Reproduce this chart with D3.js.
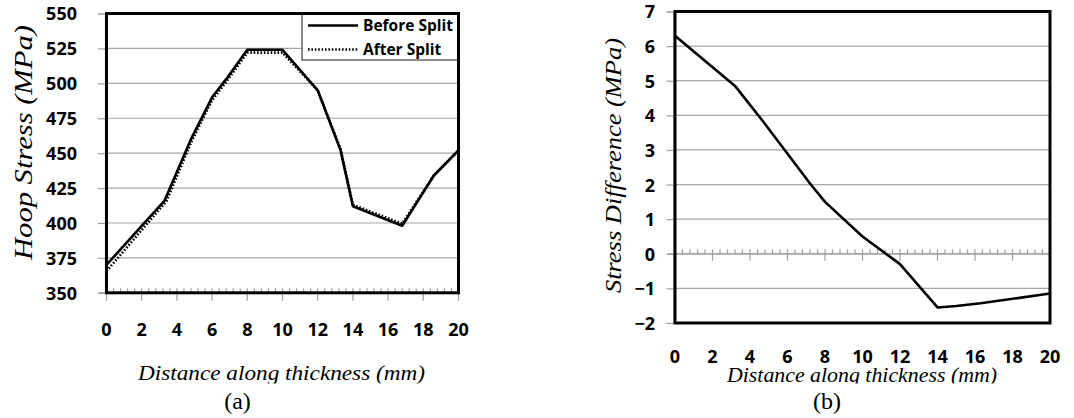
<!DOCTYPE html>
<html>
<head>
<meta charset="utf-8">
<script src="https://cdn.jsdelivr.net/npm/d3@7"></script>
<style>
  html, body { margin: 0; padding: 0; background: #fff; }
  svg { display: block; }
  .tick-label { font-family: "Open Sans", Lato, sans-serif; font-weight: 700; font-size: 18px; fill: #000; }
  .title { font-family: "Liberation Serif", "DejaVu Serif", serif; font-style: italic; fill: #000; }
  .caption { font-family: "Liberation Serif", "DejaVu Serif", serif; font-size: 24px; fill: #000; }
  .legend { font-family: "Open Sans", Lato, sans-serif; font-weight: 700; font-size: 15.5px; fill: #000; }
</style>
</head>
<body>
<svg id="chart" width="1074" height="418"></svg>
<script>
// Panel (a): hoop stress through the thickness, before and after splitting
const hoopTicksX = [0, 2, 4, 6, 8, 10, 12, 14, 16, 18, 20];
const hoopTicksY = [350, 375, 400, 425, 450, 475, 500, 525, 550];
const beforeX = [0, 3.3, 4.8, 6, 6.8, 8, 10, 12, 13.3, 14, 16.8, 18.6, 20];
const beforeY = [370, 416, 460, 490, 503, 524, 524, 495, 452, 412, 398, 434, 452];
const afterX  = [0, 3.4, 4.8, 6, 6.8, 8, 10, 12, 13.3, 14, 16.8, 18.6, 20];
const afterY  = [365.5, 415.5, 457.5, 488, 501, 522, 522, 495, 453, 413, 399.5, 434, 452];
const seriesNames = ["Before Split", "After Split"];

// Panel (b): difference between the two stress states
const diffTicksX = [0, 2, 4, 6, 8, 10, 12, 14, 16, 18, 20];
const diffTicksY = [-2, -1, 0, 1, 2, 3, 4, 5, 6, 7];
const diffX = [0, 3.2, 4.7, 7.2, 8, 10, 12, 14, 15, 16.3, 20];
const diffY = [6.3, 4.85, 3.82, 2.03, 1.5, 0.5, -0.3, -1.55, -1.51, -1.43, -1.15];

const svg = d3.select("#chart");
const GRID = "#a6a6a6";
const AXIS = "#a0a0a0";

// Clip for the x-axis titles, whose lower edge is cut off
svg.append("defs").append("clipPath").attr("id", "titleClip")
  .append("rect").attr("x", 0).attr("y", 0).attr("width", 1074).attr("height", 383.5);

function panel(opt) {
  const g = svg.append("g");
  const x = d3.scaleLinear().domain([0, 20]).range([opt.left, opt.right]);
  const y = d3.scaleLinear().domain(opt.yDomain).range([opt.bottom, opt.top]);

  // horizontal gridlines
  g.append("g").selectAll("line").data(opt.yTicks).join("line")
    .attr("x1", opt.left).attr("x2", opt.right)
    .attr("y1", d => y(d)).attr("y2", d => y(d))
    .attr("stroke", GRID).attr("stroke-width", 1.2);

  // y axis: gray line with outward ticks, labels right-aligned
  const yAxis = d3.axisLeft(y).tickValues(opt.yTicks).tickSize(7).tickFormat(d3.format("d"));
  const ya = g.append("g").attr("transform", `translate(${opt.left - 1.5},0)`).call(yAxis);
  ya.attr("font-family", null).attr("font-size", null);
  ya.select(".domain").attr("stroke", AXIS).attr("stroke-width", 1.2);
  ya.selectAll(".tick line").attr("stroke", AXIS).attr("stroke-width", 1.2);
  ya.selectAll(".tick text").attr("class", "tick-label").attr("x", -(opt.left - 1.5 - opt.labelRight))
    .attr("dy", "0.36em");

  // x axis line (crossing at axisValue) with minor ticks inside and major ticks across
  const ay = y(opt.axisValue);
  g.append("line").attr("x1", opt.left - 7).attr("x2", opt.right)
    .attr("y1", ay).attr("y2", ay).attr("stroke", AXIS).attr("stroke-width", 1.2);
  const minor = d3.range(0, 20.001, 0.4).filter(v => Math.abs(v / 2 - Math.round(v / 2)) > 1e-6);
  g.append("g").selectAll("line").data(minor).join("line")
    .attr("x1", d => x(d)).attr("x2", d => x(d))
    .attr("y1", ay - 4.5).attr("y2", ay)
    .attr("stroke", AXIS).attr("stroke-width", 1.2);
  g.append("g").selectAll("line").data(opt.xTicks).join("line")
    .attr("x1", d => x(d)).attr("x2", d => x(d))
    .attr("y1", ay - 4.5).attr("y2", ay + opt.majorBelow)
    .attr("stroke", AXIS).attr("stroke-width", 1.2);

  // x tick labels along the bottom
  g.append("g").selectAll("text").data(opt.xTicks).join("text")
    .attr("class", "tick-label").attr("text-anchor", "middle")
    .attr("x", d => x(d)).attr("y", opt.xLabelY).text(d => d);

  // data lines
  const line = d3.line().x(d => x(d[0])).y(d => y(d[1]));
  opt.series.forEach(s => {
    g.append("path").datum(d3.zip(s.xs, s.ys))
      .attr("d", line).attr("fill", "none").attr("stroke", "#000")
      .attr("stroke-width", s.width).attr("stroke-dasharray", s.dash || null)
      .attr("stroke-linejoin", "round");
  });

  // legend
  if (opt.legend) {
    const L = opt.legend;
    g.append("rect").attr("x", L.x).attr("y", opt.top).attr("width", opt.right - L.x)
      .attr("height", L.h).attr("fill", "#fff").attr("stroke", "#404040").attr("stroke-width", 1.2);
    L.items.forEach((it, i) => {
      const cy = opt.top + 12 + i * 24;
      g.append("line").attr("x1", L.x + 6).attr("x2", L.x + 56).attr("y1", cy).attr("y2", cy)
        .attr("stroke", "#000").attr("stroke-width", it.width).attr("stroke-dasharray", it.dash || null);
      g.append("text").attr("class", "legend").attr("x", L.x + 61).attr("y", cy + 5.5).text(it.name);
    });
  }

  // plot area border
  g.append("rect").attr("x", opt.left).attr("y", opt.top)
    .attr("width", opt.right - opt.left).attr("height", opt.bottom - opt.top)
    .attr("fill", "none").attr("stroke", "#000").attr("stroke-width", 3);

  // axis titles
  g.append("text").attr("class", "title").attr("clip-path", "url(#titleClip)")
    .attr("x", opt.xTitle.x).attr("y", opt.xTitle.y).attr("text-anchor", "middle")
    .style("font-size", opt.xTitle.size + "px")
    .attr("textLength", opt.xTitle.len).attr("lengthAdjust", "spacingAndGlyphs")
    .text("Distance along thickness (mm)");
  g.append("text").attr("class", "title")
    .attr("transform", `translate(${opt.yTitle.x},${opt.yTitle.y}) rotate(-90)`)
    .attr("text-anchor", "middle").style("font-size", opt.yTitle.size + "px")
    .attr("textLength", opt.yTitle.len).attr("lengthAdjust", "spacingAndGlyphs")
    .text(opt.yTitle.text);

  g.append("text").attr("class", "caption").attr("text-anchor", "middle")
    .attr("x", opt.caption.x).attr("y", 409).text(opt.caption.text);
}

panel({
  left: 106.5, right: 458.5, top: 13.5, bottom: 292.8,
  yDomain: [350, 550], yTicks: hoopTicksY, xTicks: hoopTicksX,
  labelRight: 77, axisValue: 350, majorBelow: 8, xLabelY: 336,
  series: [
    { xs: beforeX, ys: beforeY, width: 2.6 },
    { xs: afterX, ys: afterY, width: 2.6, dash: "1.6,1.8" }
  ],
  legend: { x: 302, h: 46.5, items: [
    { name: seriesNames[0], width: 2.6 },
    { name: seriesNames[1], width: 2.6, dash: "1.6,1.8" }
  ] },
  xTitle: { x: 281.5, y: 380, size: 22, len: 287 },
  yTitle: { x: 32, y: 142.5, size: 25, len: 235, text: "Hoop Stress (MPa)" },
  caption: { x: 237.5, text: "(a)" }
});

panel({
  left: 675, right: 1050, top: 11.5, bottom: 323,
  yDomain: [-2, 7], yTicks: diffTicksY, xTicks: diffTicksX,
  labelRight: 655, axisValue: 0, majorBelow: 7, xLabelY: 363,
  series: [ { xs: diffX, ys: diffY, width: 2.6 } ],
  xTitle: { x: 862, y: 382, size: 20, len: 270 },
  yTitle: { x: 621, y: 165.5, size: 24, len: 255, text: "Stress Difference (MPa)" },
  caption: { x: 827, text: "(b)" }
});
</script>
</body>
</html>
